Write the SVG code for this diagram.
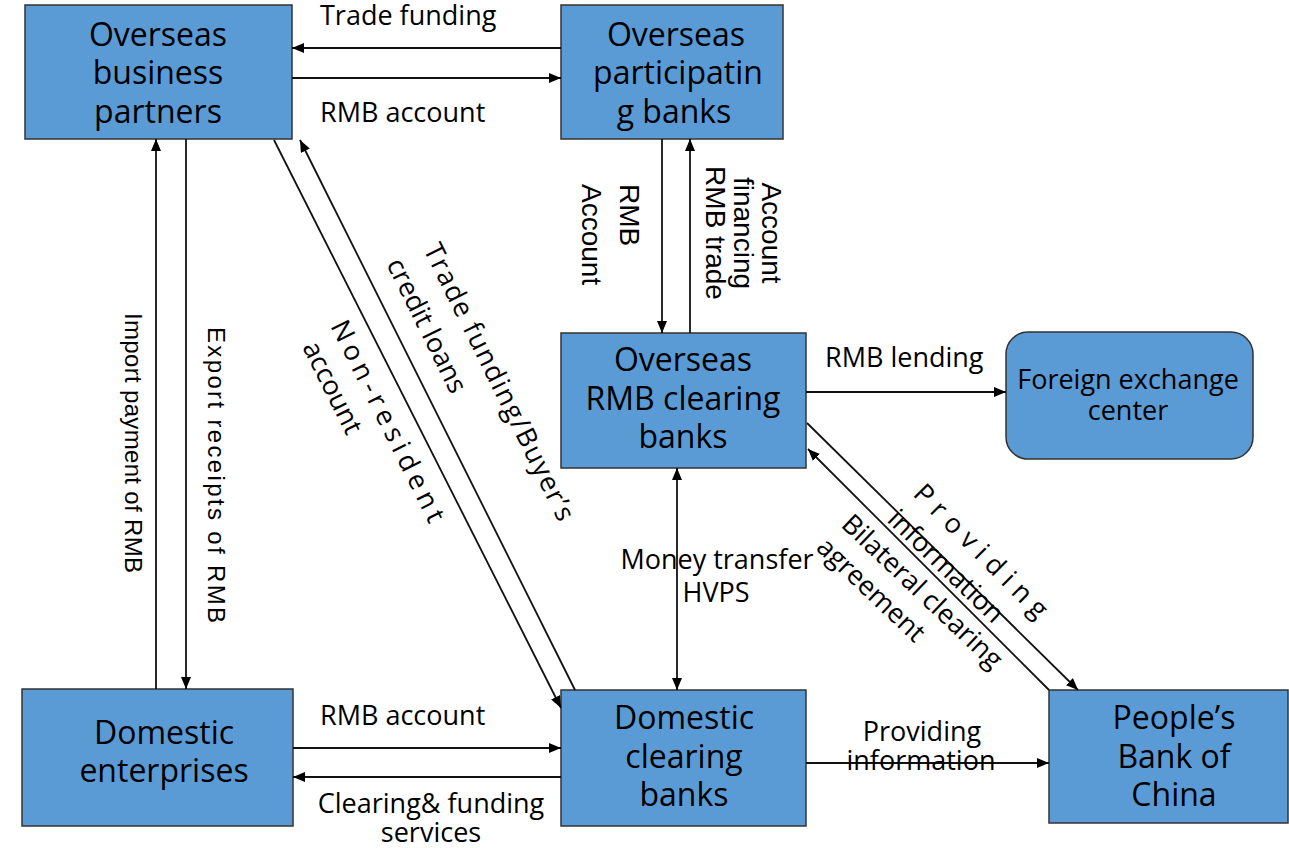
<svg xmlns="http://www.w3.org/2000/svg" width="1289" height="848" viewBox="0 0 1289 848">
<defs>
<style>
.box{fill:#5B9BD5;stroke:#333;stroke-width:1.5}
.bt{font-family:"Open Sans","Noto Sans",sans-serif;font-size:32px;fill:#000;text-anchor:middle}
.lb{font-family:"Open Sans","Noto Sans",sans-serif;font-size:27px;fill:#000}
.vl{font-family:"Liberation Sans",Arial,sans-serif;font-size:28px;fill:#000}
.c{text-anchor:middle}
.ln{stroke:#111;stroke-width:1.8;fill:none;marker-end:url(#ah)}
</style>
<marker id="ah" viewBox="0 0 12 10" refX="12" refY="5" markerWidth="12" markerHeight="10" markerUnits="userSpaceOnUse" orient="auto-start-reverse"><path d="M0,0 L12,5 L0,10 z" fill="#000"/></marker>
</defs>
<rect width="1289" height="848" fill="#fff"/>

<g id="n-overseas-business-partners">
<rect class="box" x="25" y="5" width="267" height="134"/>
<text class="bt" x="158" y="46">Overseas</text>
<text class="bt" x="158" y="84">business</text>
<text class="bt" x="158" y="123">partners</text>
</g>
<g id="n-overseas-participating-banks">
<rect class="box" x="561" y="5" width="222" height="134"/>
<text class="bt" x="676" y="46">Overseas</text>
<text class="bt" x="678" y="84">participatin</text>
<text class="bt" x="674" y="123">g banks</text>
</g>
<g id="n-overseas-rmb-clearing-banks">
<rect class="box" x="561" y="333" width="245" height="135"/>
<text class="bt" x="683" y="371">Overseas</text>
<text class="bt" x="683" y="410">RMB clearing</text>
<text class="bt" x="683" y="448">banks</text>
</g>
<g id="n-foreign-exchange-center">
<rect class="box" x="1006" y="332" width="247" height="127" rx="22"/>
<text class="lb c" x="1128" y="389">Foreign exchange</text>
<text class="lb c" x="1128" y="420">center</text>
</g>
<g id="n-domestic-enterprises">
<rect class="box" x="22" y="689" width="271" height="137"/>
<text class="bt" x="164" y="744">Domestic</text>
<text class="bt" x="164" y="782">enterprises</text>
</g>
<g id="n-domestic-clearing-banks">
<rect class="box" x="561" y="690" width="245" height="136"/>
<text class="bt" x="684" y="729">Domestic</text>
<text class="bt" x="684" y="768">clearing</text>
<text class="bt" x="684" y="806">banks</text>
</g>
<g id="n-peoples-bank-of-china">
<rect class="box" x="1049" y="690" width="239" height="133"/>
<text class="bt" x="1174" y="729">People’s</text>
<text class="bt" x="1174" y="768">Bank of</text>
<text class="bt" x="1174" y="806">China</text>
</g>

<g id="connectors">
<line class="ln" x1="561" y1="48" x2="292" y2="48"/>
<line class="ln" x1="292" y1="78" x2="561" y2="78"/>
<line class="ln" x1="662" y1="139" x2="662" y2="333"/>
<line class="ln" x1="690" y1="333" x2="690" y2="139"/>
<line class="ln" x1="806" y1="392" x2="1006" y2="392"/>
<line class="ln" x1="677" y1="468" x2="677" y2="690" style="marker-start:url(#ah)"/>
<line class="ln" x1="806" y1="763" x2="1049" y2="763"/>
<line class="ln" x1="293" y1="748" x2="561" y2="748"/>
<line class="ln" x1="561" y1="777" x2="293" y2="777"/>
<line class="ln" x1="156" y1="689" x2="156" y2="139"/>
<line class="ln" x1="186" y1="139" x2="186" y2="689"/>
<line class="ln" x1="274" y1="140" x2="561" y2="708"/>
<line class="ln" x1="575" y1="690" x2="300" y2="140"/>
<line class="ln" x1="807" y1="423" x2="1078" y2="690"/>
<line class="ln" x1="1049" y1="690" x2="808" y2="449"/>

<text class="lb" x="320" y="25">Trade funding</text>
<text class="lb" x="320" y="122">RMB account</text>
<text class="lb" x="825" y="367">RMB lending</text>
<text class="lb c" x="717" y="569">Money transfer</text>
<text class="lb c" x="716" y="602">HVPS</text>
<text class="lb" x="320" y="725">RMB account</text>
<text class="lb c" x="431" y="813">Clearing&amp; funding</text>
<text class="lb c" x="431" y="842">services</text>
<text class="lb c" x="922" y="741">Providing</text>
<text class="lb c" x="921" y="770">information</text>

<text class="vl" transform="translate(620,184) rotate(90)">RMB</text>
<text class="vl" transform="translate(582,184) rotate(90)">Account</text>
<text class="vl c" transform="translate(762,233) rotate(90)">Account</text>
<text class="vl c" transform="translate(734,233) rotate(90)">financing</text>
<text class="vl c" transform="translate(706,233) rotate(90)">RMB trade</text>
<text class="vl" style="font-size:24px" textLength="260" lengthAdjust="spacing" transform="translate(125,313) rotate(90)">Import payment of RMB</text>
<text class="vl" style="font-size:24px" textLength="296" lengthAdjust="spacing" transform="translate(208,327) rotate(90)">Export receipts of RMB</text>

<text class="lb" textLength="222" lengthAdjust="spacing" transform="translate(330,326) rotate(63.4)">Non-resident</text>
<text class="lb" transform="translate(302,347) rotate(63.4)">account</text>
<text class="lb" textLength="306" lengthAdjust="spacing" transform="translate(423,249) rotate(63.6)">Trade funding/Buyer’s</text>
<text class="lb" transform="translate(386,264) rotate(63.6)">credit loans</text>

<text class="lb" textLength="177" lengthAdjust="spacing" transform="translate(912,495) rotate(45)">Providing</text>
<text class="lb" transform="translate(886,521) rotate(44)">information</text>
<text class="lb" transform="translate(840,526) rotate(43.5)">Bilateral clearing</text>
<text class="lb" transform="translate(815,549) rotate(43.5)">agreement</text>
</g>
</svg>
